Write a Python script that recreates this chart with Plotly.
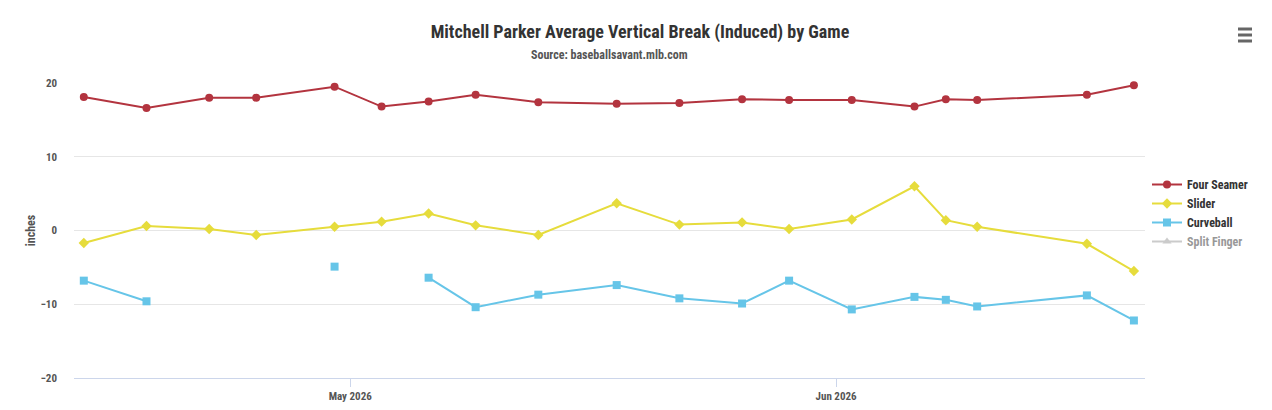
import plotly.graph_objects as go

# game dates and average induced vertical break (inches)
datas = ['2026-04-14', '2026-04-18', '2026-04-22', '2026-04-25', '2026-04-30',
         '2026-05-03', '2026-05-06', '2026-05-09', '2026-05-13', '2026-05-18',
         '2026-05-22', '2026-05-26', '2026-05-29', '2026-06-02', '2026-06-06',
         '2026-06-08', '2026-06-10', '2026-06-17', '2026-06-20']

four_seamer = [18.1, 16.6, 18.0, 18.0, 19.5, 16.8, 17.5, 18.4, 17.4, 17.2,
               17.3, 17.8, 17.7, 17.7, 16.8, 17.8, 17.7, 18.4, 19.7]
slider = [-1.7, 0.6, 0.2, -0.6, 0.5, 1.2, 2.3, 0.7, -0.6, 3.7,
          0.8, 1.1, 0.2, 1.5, 6.0, 1.4, 0.5, -1.8, -5.5]
curveball = [-6.8, -9.6, None, None, -4.9, None, -6.4, -10.4, -8.7, -7.4,
             -9.2, -9.9, -6.8, -10.7, -9.0, -9.4, -10.3, -8.8, -12.2]
split_finger = [None] * len(datas)

fonte = 'Roboto Condensed, Liberation Sans Narrow, Roboto, sans-serif'

# the page body adds 8px, so the figure is a bit smaller and everything is shifted
desloc = 8
largura, altura = 1272 - desloc, 410 - desloc
esq, dir, topo, base = 74 - desloc, 1145 - desloc, 83 - desloc, 378 - desloc

fig = go.Figure(layout=go.Layout(width=largura, height=altura))

fig.add_trace(go.Scatter(x=datas, y=four_seamer, name='Four Seamer', mode='lines+markers',
                         cliponaxis=False,
                         line=dict(color='#b3343f', width=2),
                         marker=dict(symbol='circle', size=8, color='#b3343f')))
fig.add_trace(go.Scatter(x=datas, y=slider, name='Slider', mode='lines+markers',
                         cliponaxis=False,
                         line=dict(color='#e6dc3c', width=2),
                         marker=dict(symbol='diamond', size=8, color='#e6dc3c')))
fig.add_trace(go.Scatter(x=datas, y=curveball, name='Curveball', mode='lines+markers',
                         connectgaps=False, cliponaxis=False,
                         line=dict(color='#66c5e8', width=2),
                         marker=dict(symbol='square', size=8, color='#66c5e8')))
fig.add_trace(go.Scatter(x=datas, y=split_finger, name='Split Finger', mode='lines+markers',
                         visible='legendonly',
                         line=dict(color='#999999', width=2),
                         marker=dict(symbol='triangle-up', size=8, color='#999999')))

fig.update_layout(
    plot_bgcolor='white',
    paper_bgcolor='white',
    margin=dict(l=esq, r=largura - dir, t=topo, b=altura - base, autoexpand=False),
    font=dict(family=fonte, color='#555555', size=11, weight='bold'),
    title=dict(text='Mitchell Parker Average Vertical Break (Induced) by Game',
               x=0.5, xanchor='center', y=1 - (32 - desloc) / altura, yanchor='middle',
               font=dict(family=fonte, size=18, color='#333333', weight='bold')),
    showlegend=True,
    legend=dict(x=(1147 - desloc - esq) / (dir - esq), xanchor='left',
                y=(base - (213 - desloc)) / (base - topo), yanchor='middle',
                font=dict(family=fonte, size=12, color='#333333', weight='bold'),
                itemwidth=30, tracegroupgap=0, bgcolor='rgba(0,0,0,0)'),
    hovermode='x',
)

fig.add_annotation(text='Source: baseballsavant.mlb.com', xref='paper', yref='paper',
                   x=0.5, y=1, yshift=topo - (55 - desloc), showarrow=False, yanchor='middle',
                   font=dict(family=fonte, size=12, color='#555555', weight='bold'))

fig.update_xaxes(type='date', range=['2026-04-13 09:00', '2026-06-20 17:00'],
                 tick0='2026-05-01', dtick='M1', tickformat='%b %Y', automargin=False,
                 showgrid=False, showline=True, linecolor='#ccd6eb', linewidth=1,
                 ticks='outside', ticklen=8, tickcolor='#ccd6eb',
                 tickfont=dict(family=fonte, size=11, color='#555555', weight='bold'))
fig.update_yaxes(range=[-20, 20], dtick=10, showgrid=True, gridcolor='#e6e6e6', gridwidth=1,
                 zeroline=False, showline=False, ticks='', ticklabelstandoff=16, automargin=False,
                 title=dict(text='inches', standoff=2,
                            font=dict(family=fonte, size=12, color='#555555', weight='bold')),
                 tickfont=dict(family=fonte, size=11, color='#555555', weight='bold'))

# menu icon (three bars) in the top right corner
for dy in [29, 35, 41]:
    fig.add_shape(type='line', xref='paper', yref='paper',
                  x0=(1238 - desloc - esq) / (dir - esq), x1=(1252 - desloc - esq) / (dir - esq),
                  y0=(base - (dy - desloc)) / (base - topo), y1=(base - (dy - desloc)) / (base - topo),
                  line=dict(color='#666666', width=3))

fig.write_html('out.html')
